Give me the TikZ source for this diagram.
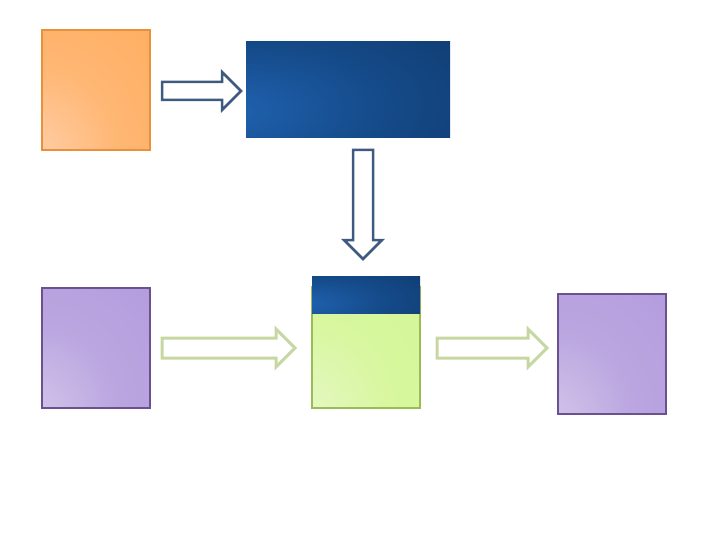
\documentclass[tikz,border=0pt]{standalone}
\usetikzlibrary{calc}
\definecolor{orLight}{HTML}{FFD8BC}
\definecolor{orMid}{HTML}{FFB775}
\definecolor{orDark}{HTML}{FFA850}
\definecolor{orBorder}{HTML}{E8903A}
\definecolor{puLight}{HTML}{DCD2EE}
\definecolor{puMid}{HTML}{BBA6E0}
\definecolor{puDark}{HTML}{AE95DC}
\definecolor{puBorder}{HTML}{6A5290}
\definecolor{grLight}{HTML}{EAF8D2}
\definecolor{grMid}{HTML}{D8F7A0}
\definecolor{grDark}{HTML}{D0F58C}
\definecolor{grBorder}{HTML}{9BBB59}
\definecolor{blLight}{HTML}{2063B2}
\definecolor{blMid}{HTML}{154B8A}
\definecolor{blDark}{HTML}{0D3462}
\definecolor{darrow}{HTML}{3E5A80}
\definecolor{garrow}{HTML}{C6D7A2}
\pgfdeclareradialshading{orglow}{\pgfpoint{-40bp}{-40bp}}{color(0bp)=(orLight); color(35bp)=(orMid); color(80bp)=(orDark); color(100bp)=(orDark)}
\pgfdeclareradialshading{puglow}{\pgfpoint{-40bp}{-40bp}}{color(0bp)=(puLight); color(35bp)=(puMid); color(80bp)=(puDark); color(100bp)=(puDark)}
\pgfdeclareradialshading{grglow}{\pgfpoint{-40bp}{-40bp}}{color(0bp)=(grLight); color(35bp)=(grMid); color(80bp)=(grDark); color(100bp)=(grDark)}
\pgfdeclareradialshading{blglow}{\pgfpoint{-32bp}{-12bp}}{color(0bp)=(blLight); color(30bp)=(blMid); color(70bp)=(blDark); color(100bp)=(blDark)}
\tikzset{
  box/.style={rectangle, inner sep=0pt, line width=1.5pt},
  orbox/.style={box, draw=orBorder, shading=orglow, minimum width=108pt, minimum height=120pt},
  pubox/.style={box, draw=puBorder, shading=puglow, minimum width=108pt, minimum height=120pt},
  grbox/.style={box, draw=grBorder, shading=grglow},
  blbox/.style={box, shading=blglow},
  darr/.style={draw=darrow, line width=2.5pt, line join=miter},
  garr/.style={draw=garrow, line width=3pt, line join=miter}
}
\begin{document}
\begin{tikzpicture}[x=1pt,y=-1pt]
\useasboundingbox (0,0) rectangle (720,540);
\node[orbox] (src) at (96,90) {};
\node[blbox, minimum width=204pt, minimum height=96pt] (top) at (348,90) {};
\node[pubox] (in) at (96,348) {};
\node[grbox, minimum width=108pt, minimum height=121pt] (mid) at (366,347.5) {};
\node[blbox, minimum width=108pt, minimum height=37pt, anchor=north] (midhead) at (366,276) {};
\node[pubox] (out) at (612,354) {};
% arrow src -> top
\draw[darr] (162,82) -- (222,82) -- (222,72) -- (241,91) -- (222,110) -- (222,100) -- (162,100) -- cycle;
% arrow top -> mid
\draw[darr] (353,150) -- (373,150) -- (373,240) -- (382,240) -- (363,259) -- (344,240) -- (353,240) -- cycle;
% arrow in -> mid
\draw[garr] (162,338) -- (276,338) -- (276,329) -- (295,348) -- (276,367) -- (276,358) -- (162,358) -- cycle;
% arrow mid -> out
\draw[garr] (437,338) -- (528,338) -- (528,329) -- (547,348) -- (528,367) -- (528,358) -- (437,358) -- cycle;
\end{tikzpicture}
\end{document}
